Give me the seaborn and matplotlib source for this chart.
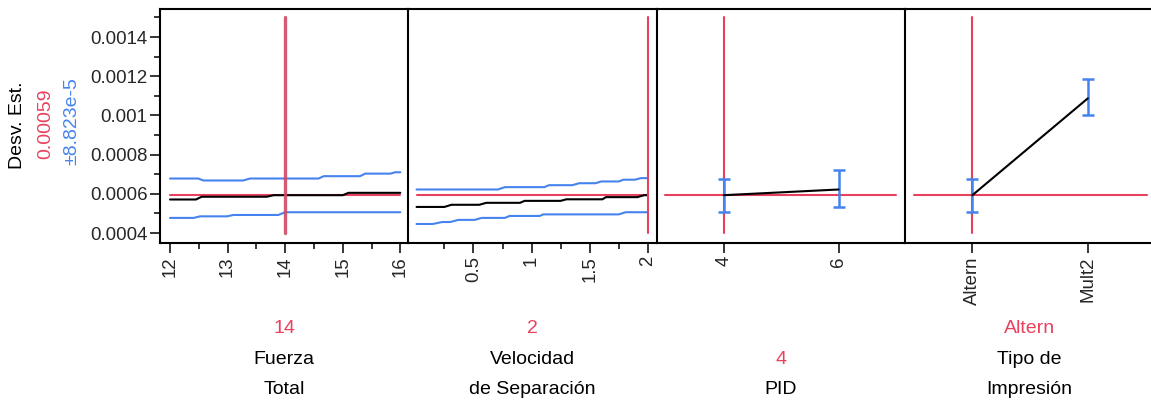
import matplotlib
matplotlib.use("Agg")
import matplotlib.pyplot as plt
import seaborn as sns
import numpy as np

# ---------------- data ----------------
y_ticks = [0.0004, 0.0006, 0.0008, 0.0010, 0.0012, 0.0014]
y_tick_labels = ["0.0004", "0.0006", "0.0008", "0.001", "0.0012", "0.0014"]
y_minor = [0.0005, 0.0007, 0.0009, 0.0011, 0.0013, 0.0015]

pred_value = 0.000593          # current prediction (red horizontal)
pred_text = "0.00059"
ci_text = "\u00b18.823e-5"
resp_label = "Desv. Est."

# Fuerza Total
fz_ticks = [12, 13, 14, 15, 16]
fz_minor = [12.5, 13.5, 14.5, 15.5]
fz_current = 14
fz_mean_x = [12, 12.45, 12.55, 13.68, 13.8, 15.0, 15.1, 16]
fz_mean = [0.000571, 0.000571, 0.000585, 0.000585, 0.000593, 0.000593, 0.000605, 0.000605]
fz_up_x = [12, 12.49, 12.58, 13.27, 13.39, 14.58, 14.67, 15.30, 15.39, 15.83, 15.91, 16]
fz_up = [0.000678, 0.000678, 0.000668, 0.000668, 0.000678, 0.000678, 0.00069, 0.00069,
         0.000703, 0.000703, 0.00071, 0.00071]
fz_lo_x = [12, 12.41, 12.52, 12.99, 13.10, 13.88, 14.0, 16]
fz_lo = [0.000477, 0.000477, 0.000485, 0.000485, 0.000492, 0.000492, 0.000506, 0.000506]

# Velocidad de Separacion
vs_ticks = [0.5, 1, 1.5, 2]
vs_tick_labels = ["0.5", "1", "1.5", "2"]
vs_minor = [0.25, 0.75, 1.25, 1.75]
vs_current = 2
vs_up_x = [0.01, 0.71, 0.77, 1.11, 1.15, 1.35, 1.41, 1.55, 1.60, 1.75, 1.79, 1.89, 1.94, 2.0]
vs_up = [0.000622, 0.000622, 0.000634, 0.000634, 0.000644, 0.000644, 0.000654, 0.000654,
         0.000663, 0.000663, 0.000672, 0.000672, 0.00068, 0.00068]
vs_mean_x = [0.01, 0.25, 0.31, 0.55, 0.61, 0.90, 0.94, 1.25, 1.30, 1.61, 1.64, 1.91, 1.97, 2.0]
vs_mean = [0.000533, 0.000533, 0.000544, 0.000544, 0.000554, 0.000554, 0.000564, 0.000564,
           0.000572, 0.000572, 0.000583, 0.000583, 0.000593, 0.000593]
vs_lo_x = [0.01, 0.15, 0.23, 0.30, 0.37, 0.51, 0.57, 0.77, 0.81, 1.07, 1.10, 1.75, 1.81, 2.0]
vs_lo = [0.000446, 0.000446, 0.000456, 0.000456, 0.000467, 0.000467, 0.000477, 0.000477,
         0.000487, 0.000487, 0.000495, 0.000495, 0.000506, 0.000506]

# PID
pid_levels = [4, 6]
pid_current = 4
pid_mean = [0.000593, 0.000622]
pid_lower = [0.000506, 0.000533]
pid_upper = [0.000678, 0.000720]

# Tipo de Impresion
tipo_levels = ["Altern", "Mult2"]
tipo_current = "Altern"
tipo_mean = [0.000593, 0.001087]
tipo_lower = [0.000506, 0.001000]
tipo_upper = [0.000678, 0.001186]

factor_labels = [("Fuerza", "Total"), ("Velocidad", "de Separaci\u00f3n"), ("PID",), ("Tipo de", "Impresi\u00f3n")]
current_texts = ["14", "2", "4", "Altern"]

# ---------------- style ----------------
sns.set_theme(style="white")
plt.rcParams["font.family"] = ["Liberation Sans", "DejaVu Sans"]

RED = "#E8415E"
RED_LOCK = "#CC4A64"
BLUE = "#4583EE"
BLACK = "#000000"

W, H = 1151, 400
fig = plt.figure(figsize=(W / 100, H / 100), dpi=100)

def px(x0, y0, w, h):
    return [x0 / W, 1 - (y0 + h) / H, w / W, h / H]

lefts = [160, 408.3, 656.7, 905.2]
pw = 248.4
top, ph = 9, 234
ylim = (0.000349, 0.001543)

axes = [fig.add_axes(px(l, top, pw, ph)) for l in lefts]

def line(ax, x, y, color, lw, z=2, alpha=1.0):
    sns.lineplot(x=x, y=y, ax=ax, color=color, linewidth=lw, estimator=None,
                 sort=False, legend=False, zorder=z, alpha=alpha)

# Panel 1
ax = axes[0]
line(ax, fz_up_x, fz_up, BLUE, 1.5)
line(ax, fz_lo_x, fz_lo, BLUE, 1.5)
line(ax, [fz_ticks[0], fz_ticks[-1]], [pred_value, pred_value], RED, 1.5, 3)
line(ax, fz_mean_x, fz_mean, BLACK, 1.5, 4)
line(ax, [fz_current, fz_current], [0.0004, 0.0015], RED_LOCK, 2.4, 5, 0.9)
ax.set_xlim(11.826, 16.14)
ax.set_xticks(fz_ticks)
ax.set_xticklabels([str(t) for t in fz_ticks])
ax.set_xticks(fz_minor, minor=True)

# Panel 2
ax = axes[1]
line(ax, vs_up_x, vs_up, BLUE, 1.5)
line(ax, vs_lo_x, vs_lo, BLUE, 1.5)
line(ax, [vs_mean_x[0], vs_mean_x[-1]], [pred_value, pred_value], RED, 1.5, 3)
line(ax, vs_mean_x, vs_mean, BLACK, 1.5, 4)
line(ax, [vs_current, vs_current], [0.0004, 0.0015], RED, 1.5, 5)
ax.set_xlim(-0.061, 2.077)
ax.set_xticks(vs_ticks)
ax.set_xticklabels(vs_tick_labels)
ax.set_xticks(vs_minor, minor=True)

# Panel 3
ax = axes[2]
line(ax, [2.97, 7.0], [pred_value, pred_value], RED, 1.5, 2)
line(ax, [pid_current, pid_current], [0.0004, 0.0015], RED, 1.5, 2)
line(ax, pid_levels, pid_mean, BLACK, 1.5, 4)
ax.errorbar(pid_levels, pid_mean,
            yerr=[np.array(pid_mean) - np.array(pid_lower), np.array(pid_upper) - np.array(pid_mean)],
            fmt="none", ecolor=BLUE, elinewidth=1.8, capsize=4, capthick=1.8, zorder=3)
ax.set_xlim(2.83, 7.16)
ax.set_xticks(pid_levels)
ax.set_xticklabels([str(v) for v in pid_levels])

# Panel 4
ax = axes[3]
tx = np.arange(len(tipo_levels))
line(ax, [-0.51, 1.51], [pred_value, pred_value], RED, 1.5, 2)
line(ax, [tipo_levels.index(tipo_current)] * 2, [0.0004, 0.0015], RED, 1.5, 2)
line(ax, tx, tipo_mean, BLACK, 1.5, 4)
ax.errorbar(tx, tipo_mean,
            yerr=[np.array(tipo_mean) - np.array(tipo_lower), np.array(tipo_upper) - np.array(tipo_mean)],
            fmt="none", ecolor=BLUE, elinewidth=1.8, capsize=4, capthick=1.8, zorder=3)
ax.set_xlim(-0.582, 1.57)
ax.set_xticks(tx)
ax.set_xticklabels(tipo_levels)

for i, ax in enumerate(axes):
    ax.set_ylim(*ylim)
    ax.set_xlabel("")
    ax.set_ylabel("")
    ax.grid(False)
    for s in ["left", "top", "bottom"]:
        ax.spines[s].set_visible(True)
        ax.spines[s].set_color("black")
        ax.spines[s].set_linewidth(1.5)
    ax.spines["right"].set_visible(False)
    ax.tick_params(axis="x", which="major", direction="out", length=7.5, width=1.1,
                   color="black", pad=2, labelsize=13.4, labelrotation=90, bottom=True)
    ax.tick_params(axis="x", which="minor", direction="out", length=4.5, width=1.1,
                   color="black", bottom=True)
    if i == 0:
        ax.set_yticks(y_ticks)
        ax.set_yticklabels(y_tick_labels)
        ax.set_yticks(y_minor, minor=True)
        ax.tick_params(axis="y", which="major", direction="out", length=7.5, width=1.1,
                       color="black", pad=1.5, labelsize=13.4, left=True)
        ax.tick_params(axis="y", which="minor", direction="out", length=4.5, width=1.1,
                       color="black", left=True)
    else:
        ax.set_yticks([])
        ax.tick_params(axis="y", which="both", left=False, labelleft=False)

# y label block
fig.text(18 / W, 1 - 125 / H, resp_label, rotation=90, ha="center", va="center",
         fontsize=14, color="black")
fig.text(46 / W, 1 - 124 / H, pred_text, rotation=90, ha="center", va="center",
         fontsize=14, color=RED)
fig.text(72 / W, 1 - 121 / H, ci_text, rotation=90, ha="center", va="center",
         fontsize=14, color=BLUE)

# bottom factor labels
for l, cur, lab in zip(lefts, current_texts, factor_labels):
    cx = (l + pw / 2) / W
    if len(lab) == 2:
        fig.text(cx, 1 - 333 / H, cur, ha="center", va="baseline", fontsize=14, color=RED)
        fig.text(cx, 1 - 364 / H, lab[0], ha="center", va="baseline", fontsize=14, color="black")
        fig.text(cx, 1 - 394 / H, lab[1], ha="center", va="baseline", fontsize=14, color="black")
    else:
        fig.text(cx, 1 - 364 / H, cur, ha="center", va="baseline", fontsize=14, color=RED)
        fig.text(cx, 1 - 394 / H, lab[0], ha="center", va="baseline", fontsize=14, color="black")

fig.savefig("out.png", dpi=100)
